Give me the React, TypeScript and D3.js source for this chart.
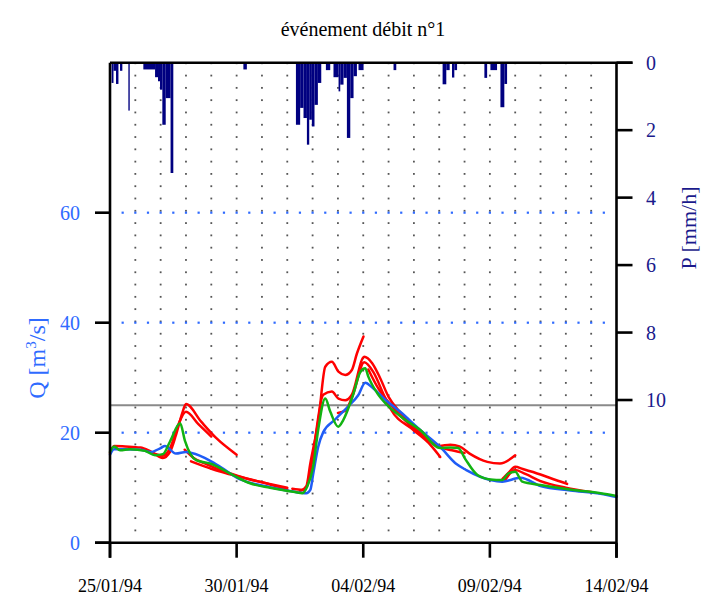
import React from 'react'
import * as d3 from 'd3'

// ── Data ─────────────────────────────────────────────────────────────────────
const TITLE = 'événement débit n°1'
const DATE_LABELS = ['25/01/94', '30/01/94', '04/02/94', '09/02/94', '14/02/94']
const DATE_DAYS = [0, 5, 10, 15, 20] // days since 25/01/94
const Q_TICKS = [0, 20, 40, 60]
const Q_GRID = [20, 40, 60]
const P_TICKS = [0, 2, 4, 6, 8, 10]
const Q_THRESHOLD = 25

// observed discharge [day, m3/s]
const OBS: [number, number][] = [
  [0, 16.0], [0.16, 17.0], [0.6, 17.0], [1.2, 16.9], [1.6, 16.5], [2.0, 17.2], [2.17, 17.6],
  [2.6, 16.2], [3.0, 16.5], [3.56, 15.8], [4.03, 14.7], [4.55, 13.2], [5.02, 11.8], [5.53, 10.9],
  [6.32, 10.1], [7.11, 9.4], [7.75, 9.0], [7.91, 9.6], [8.02, 12.4], [8.22, 17.4], [8.42, 20.1],
  [8.89, 22.4], [9.41, 24.8], [9.8, 26.8], [10.08, 29.1], [10.36, 28.2], [10.87, 26.0],
  [11.46, 23.8], [12.25, 20.5], [13.04, 17.4], [13.68, 14.3], [14.07, 13.2], [15.02, 11.4],
  [15.49, 11.1], [16.21, 11.8], [17.0, 10.3], [18.18, 9.5], [19.37, 8.9], [20, 8.3],
]

// simulated discharge [day, m3/s]
const SIM: [number, number][] = [
  [0, 16.5], [0.16, 17.5], [0.4, 16.8], [0.79, 17.0], [1.38, 16.7], [1.78, 15.9], [2.09, 16.1],
  [2.37, 18.4], [2.77, 21.7], [2.96, 18.5], [3.4, 15.0], [3.95, 14.4], [4.86, 12.3], [5.53, 10.8],
  [6.32, 10.0], [7.31, 9.2], [7.59, 9.0], [7.79, 10.2], [8.02, 13.8], [8.22, 20.5], [8.5, 26.2],
  [8.7, 23.8], [9.01, 21.1], [9.21, 22.3], [9.6, 26.9], [9.88, 31.0], [10.08, 31.7], [10.2, 30.2],
  [10.55, 27.2], [10.95, 25.0], [11.58, 22.6], [12.25, 20.5], [13.04, 17.2], [13.44, 17.3],
  [13.75, 17.2], [14.03, 15.2], [14.51, 12.3], [15.02, 11.5], [15.49, 11.4], [15.73, 12.6],
  [16.0, 12.9], [16.28, 11.1], [17.0, 10.5], [18.3, 9.6], [19.37, 9.0], [20, 8.5],
]

// forecasts [day, m3/s]
const FC1: [number, number][] = [
  [0, 16.3], [0.16, 17.6], [0.6, 17.5], [1.2, 17.3], [1.6, 16.6], [2.09, 15.4], [2.37, 16.5],
  [2.6, 19.5], [2.85, 23.5], [3.0, 25.2], [3.6, 22.0], [4.2, 19.0], [5.0, 16.0],
]
const FC2: [number, number][] = [
  [1.6, 16.5], [2.09, 15.8], [2.4, 17.5], [2.7, 21.5], [3.0, 23.8], [3.5, 21.5], [4.0, 19.3],
]
const FC3: [number, number][] = [
  [2.95, 16.9], [3.3, 15.4], [3.8, 14.3], [4.55, 12.9], [5.53, 11.5], [6.3, 10.7], [7.0, 10.0],
]
const FC4: [number, number][] = [
  [3.2, 14.8], [4.03, 13.4], [5.02, 12.1], [6.0, 11.0], [7.0, 9.7],
]
const FC5: [number, number][] = [
  [7.2, 9.8], [7.6, 9.6], [7.75, 10.2], [7.91, 14.4], [8.23, 22.3], [8.5, 32.0], [8.76, 32.9],
  [9.02, 31.1], [9.29, 30.5], [9.55, 31.4], [9.75, 34.4], [10.01, 37.5],
]
const FC6: [number, number][] = [
  [7.5, 9.4], [7.79, 10.4], [7.95, 14.0], [8.42, 26.9], [8.76, 27.5], [9.02, 26.2], [9.29, 25.9],
  [9.55, 26.9], [10.04, 33.8], [10.36, 32.6], [10.67, 29.9], [11.0, 26.5], [11.5, 23.5],
  [12.0, 21.0], [12.5, 19.0], [13.0, 17.6], [13.44, 17.8], [13.8, 17.5], [14.2, 16.2],
  [14.9, 14.7], [15.4, 14.4], [16.0, 15.9],
]
const FC7: [number, number][] = [
  [9.0, 23.6], [9.29, 24.0], [9.6, 27.0], [10.04, 32.8], [10.4, 31.0], [10.8, 27.0],
  [11.07, 24.4], [11.98, 20.5], [12.65, 17.8], [13.04, 15.6],
]
const FC8: [number, number][] = [
  [10.2, 31.5], [10.6, 28.0], [11.1, 25.0], [11.7, 22.0], [12.3, 19.6], [12.9, 17.6],
  [13.5, 16.8], [14.0, 16.3],
]
const FC9: [number, number][] = [
  [15.5, 11.6], [15.75, 12.8], [16.0, 13.8], [16.3, 13.4], [17.0, 12.4], [17.6, 11.4], [18.05, 10.7],
]
const FC10: [number, number][] = [
  [15.6, 11.4], [16.0, 13.2], [16.4, 12.5], [17.0, 11.2], [18.0, 10.0], [19.0, 9.2],
]
const FORECASTS = [FC1, FC2, FC3, FC4, FC5, FC6, FC7, FC8, FC9, FC10]

// rainfall: start hour, end hour (since 25/01/94 00:00), intensity mm/h
const RAIN_START = [
  1.5, 3.3, 5.7, 9.5, 17.4, 31.6, 42.7, 45.5, 47.4, 49.6, 52.8, 57.4, 126.4,
  176.2, 180.2, 183.4, 186.6, 188.8, 191.3, 193.8, 197, 204.6, 211.8, 216.6, 218.2, 221.3,
  224.5, 227.7, 230.8, 235.5, 268.7, 315.2, 318.7, 324.1, 326.3, 354.8, 360.5, 370, 373.7,
]
const RAIN_END = [
  3.3, 5.7, 8, 11.7, 18.7, 42.7, 45.5, 47.4, 49.6, 52.8, 57.4, 60, 129.7,
  180.2, 183.4, 186.6, 188.8, 191.3, 193.8, 197, 200.2, 208.7, 216.6, 218.2, 221.3, 224.5,
  227.7, 230.8, 234, 240.3, 271.3, 318.7, 321.9, 326.3, 328.9, 357.4, 366.8, 373.7, 376.3,
]
const RAIN_P = [
  0.6, 0.24, 0.63, 0.24, 1.42, 0.2, 0.43, 0.55, 0.8, 1.84, 1.05, 3.27, 0.2,
  1.84, 1.34, 1.64, 2.43, 1.69, 1.89, 1.25, 0.6, 0.22, 0.43, 0.85, 0.65, 0.45,
  2.23, 1.05, 0.4, 0.22, 0.22, 0.64, 0.22, 0.44, 0.22, 0.45, 0.22, 1.32, 0.63,
]

// ── Layout ───────────────────────────────────────────────────────────────────
const W = 703
const H = 596
const LEFT = 110
const RIGHT = 616.5
const TOP = 62.7
const BOTTOM = 542.7
const FONT = '"Liberation Serif", "Times New Roman", serif'
const Q_COLOR = '#2f6bff'
const P_COLOR = '#1a1a8c'

export default function App() {
  const x = d3.scaleLinear().domain([0, 20]).range([LEFT, RIGHT])
  const q = d3.scaleLinear().domain([0, 87.27]).range([BOTTOM, TOP])
  const p = d3.scaleLinear().domain([0, 14.23]).range([TOP, BOTTOM])

  const line = d3.line<[number, number]>()
    .x((d) => x(d[0]))
    .y((d) => q(d[1]))
    .curve(d3.curveMonotoneX)

  // background dot grid: daily columns, rows every ~2.24 m3/s
  const dotCols = d3.range(1, 20)
  const dotRows = d3.range(1, 40).map((k) => k * 2.235)
  const halfDays = d3.range(0.5, 20, 0.5)

  return (
    <svg width={W} height={H} style={{ position: 'absolute', left: 0, top: 0, background: '#fff' }}
      fontFamily={FONT}>
      <text x={363} y={36} textAnchor="middle" fontSize={20} fill="#000">{TITLE}</text>

      {/* dot grid */}
      <g fill="#555">
        {dotCols.map((c) => dotRows.map((r) => (
          <rect key={`${c}-${r}`} x={x(c) - 0.9} y={q(r) - 0.9} width={1.8} height={1.8} />
        )))}
      </g>

      {/* dotted Q gridlines */}
      <g fill={Q_COLOR}>
        {Q_GRID.map((g) => halfDays.map((hd) => (
          <rect key={`${g}-${hd}`} x={x(hd) - 1.1} y={q(g) - 1.1} width={2.2} height={2.2} />
        )))}
      </g>

      {/* threshold */}
      <line x1={LEFT} x2={RIGHT} y1={q(Q_THRESHOLD)} y2={q(Q_THRESHOLD)} stroke="#8a8a8a" strokeWidth={2} />

      {/* rainfall */}
      <g fill="#000080">
        {RAIN_P.map((v, i) => (
          <rect key={i} x={x(RAIN_START[i] / 24)} y={p(0)}
            width={x(RAIN_END[i] / 24) - x(RAIN_START[i] / 24)} height={p(v) - p(0)} />
        ))}
      </g>

      {/* discharge */}
      <g fill="none" strokeWidth={2.5} strokeLinejoin="round" strokeLinecap="round">
        {FORECASTS.map((f, i) => (
          <path key={i} d={line(f) ?? ''} stroke="#ff0000" />
        ))}
        <path d={line(OBS) ?? ''} stroke="#1f5cf6" />
        <path d={line(SIM) ?? ''} stroke="#12b312" />
      </g>

      {/* frame / axes */}
      <g stroke="#000" strokeWidth={2.6} fill="none">
        <line x1={LEFT} x2={RIGHT + 16} y1={TOP} y2={TOP} />
        <line x1={LEFT} x2={LEFT} y1={TOP} y2={BOTTOM + 15} />
        <line x1={RIGHT} x2={RIGHT} y1={TOP} y2={BOTTOM + 15} />
        <line x1={LEFT - 15} x2={RIGHT} y1={BOTTOM} y2={BOTTOM} />
        {Q_TICKS.map((t) => (
          <line key={t} x1={LEFT - 15} x2={LEFT} y1={q(t)} y2={q(t)} />
        ))}
        {P_TICKS.map((t) => (
          <line key={t} x1={RIGHT} x2={RIGHT + 16} y1={p(t)} y2={p(t)} />
        ))}
        {DATE_DAYS.map((d) => (
          <line key={d} x1={x(d)} x2={x(d)} y1={BOTTOM} y2={BOTTOM + 15} />
        ))}
      </g>

      {/* tick labels */}
      <g fontSize={20} fill={Q_COLOR} textAnchor="end">
        {Q_TICKS.map((t) => (
          <text key={t} x={80} y={q(t) + 7}>{t}</text>
        ))}
      </g>
      <g fontSize={20} fill={P_COLOR}>
        {P_TICKS.map((t) => (
          <text key={t} x={646} y={p(t) + 7}>{t}</text>
        ))}
      </g>
      <g fontSize={18} fill="#000" textAnchor="middle">
        {DATE_LABELS.map((l, i) => (
          <text key={l} x={x(DATE_DAYS[i])} y={592}>{l}</text>
        ))}
      </g>

      {/* axis titles */}
      <text transform="translate(45,358) rotate(-90)" textAnchor="middle" fontSize={24} fill={Q_COLOR}>
        Q [m<tspan dy={-9} fontSize={15}>3</tspan><tspan dy={9}>/s]</tspan>
      </text>
      <text transform="translate(696,228) rotate(-90)" textAnchor="middle" fontSize={22} fill={P_COLOR}>
        P [mm/h]
      </text>
    </svg>
  )
}
